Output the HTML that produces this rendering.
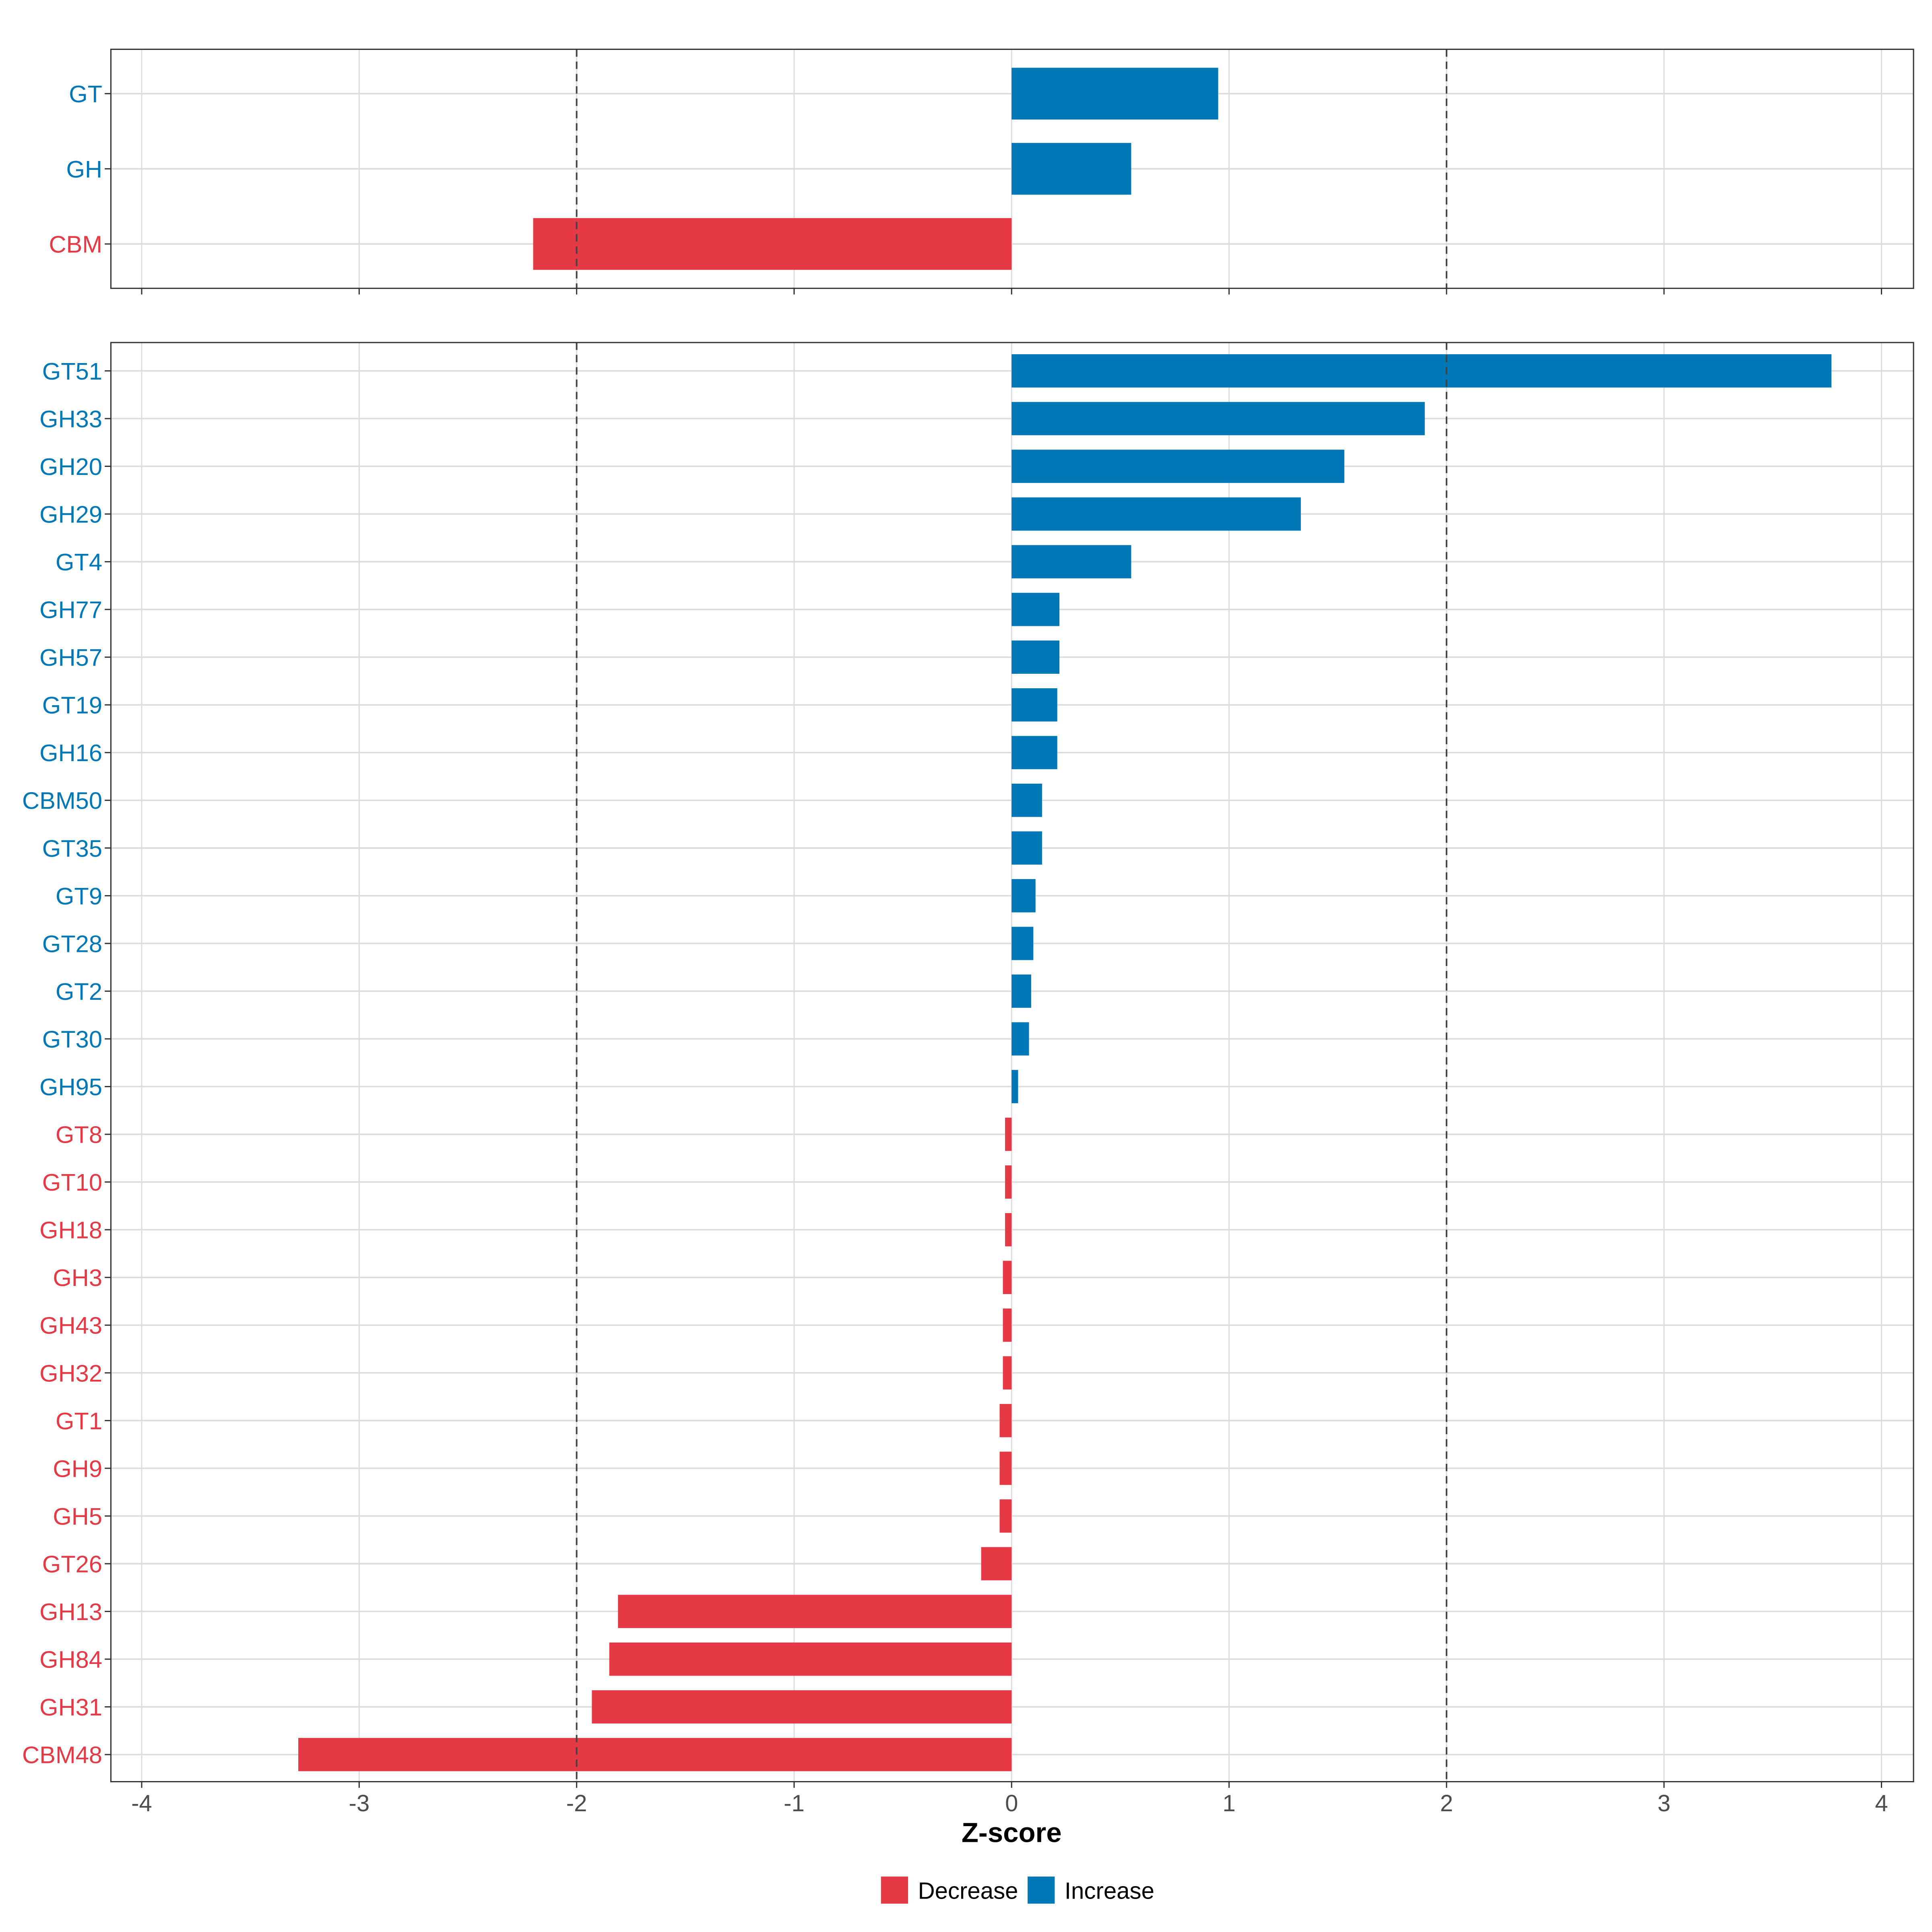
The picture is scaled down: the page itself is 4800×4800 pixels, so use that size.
<!DOCTYPE html>
<html><head><meta charset="utf-8"><style>
html,body{margin:0;padding:0;background:#fff;}
svg{display:block;}
text{font-family:"Liberation Sans",Arial,sans-serif;}
</style></head><body>
<svg id="chart" width="4800" height="4800" viewBox="0 0 1568 1568" xmlns="http://www.w3.org/2000/svg"></svg>
<script>
const topCategories = ["GT","GH","CBM"];
const topValues = [0.95, 0.55, -2.2];
const bottomCategories = ["GT51","GH33","GH20","GH29","GT4","GH77","GH57","GT19","GH16","CBM50","GT35","GT9","GT28","GT2","GT30","GH95","GT8","GT10","GH18","GH3","GH43","GH32","GT1","GH9","GH5","GT26","GH13","GH84","GH31","CBM48"];
const bottomValues = [3.77,1.90,1.53,1.33,0.55,0.22,0.22,0.21,0.21,0.14,0.14,0.11,0.10,0.09,0.08,0.03,-0.03,-0.03,-0.03,-0.04,-0.04,-0.04,-0.055,-0.055,-0.055,-0.14,-1.81,-1.85,-1.93,-3.28];
const xTicks = [-4,-3,-2,-1,0,1,2,3,4];
const thresholds = [-2, 2];

const RED="#E63946", BLUE="#0077B6";
const svg=document.getElementById('chart');
const NS="http://www.w3.org/2000/svg";
function el(tag,attrs,parent){const e=document.createElementNS(NS,tag);for(const k in attrs)e.setAttribute(k,attrs[k]);(parent||svg).appendChild(e);return e;}
const X0=821, XU=176.5;
function xs(v){return X0+v*XU;}
const L=90,R=1553;

function panel(name,top,bottom,cats,vals,firstY,step,barH){
  const g=el('g',{});
  
  
  xTicks.forEach(t=>{el('line',{x1:xs(t),x2:xs(t),y1:top,y2:bottom,stroke:'#dcdcdc','stroke-width':1},g);});
  cats.forEach((c,i)=>{const y=firstY+i*step;el('line',{x1:L,x2:R,y1:y,y2:y,stroke:'#dcdcdc','stroke-width':1.2},g);});
  cats.forEach((c,i)=>{
    const y=firstY+i*step,v=vals[i];
    const r=el('rect',{x:Math.min(xs(v),xs(0)),y:y-barH/2,width:Math.abs(xs(v)-xs(0)),height:barH,fill:v<0?RED:BLUE},g);
    
    
    el('line',{x1:L-5,x2:L,y1:y,y2:y,stroke:'#333','stroke-width':1},g);
    const t=el('text',{x:83,y:y+7,'text-anchor':'end','font-size':19.5,fill:v<0?RED:BLUE},g);
    t.textContent=c;
    
    
  });
  thresholds.forEach(t=>{el('line',{x1:xs(t),x2:xs(t),y1:top,y2:bottom,stroke:'#444','stroke-width':1.3,'stroke-dasharray':'6,4'},g);});
  el('rect',{x:L,y:top,width:R-L,height:bottom-top,fill:'none',stroke:'#333','stroke-width':1},g);
  xTicks.forEach(t=>{el('line',{x1:xs(t),x2:xs(t),y1:bottom,y2:bottom+5,stroke:'#333','stroke-width':1},g);});
}
panel('top-panel',40,234,topCategories,topValues,76,61,42);
panel('bottom-panel',278,1446,bottomCategories,bottomValues,301,(1424-301)/29,27);

xTicks.forEach(t=>{
  const tx=el('text',{x:xs(t),y:1470,'text-anchor':'middle','font-size':19,fill:'#4d4d4d'});
  tx.textContent=String(t);
  
  
});
</script>
<svg style="position:absolute;left:0;top:0" width="4800" height="4800" viewBox="0 0 1568 1568" xmlns="http://www.w3.org/2000/svg">
<text x="821" y="1495" text-anchor="middle" font-size="22.5" font-weight="bold" font-family="Liberation Sans, sans-serif">Z-score</text>
<rect x="715" y="1523" width="22" height="22" fill="#E63946"/>
<text x="745" y="1541" font-size="19" font-family="Liberation Sans, sans-serif">Decrease</text>
<rect x="834" y="1523" width="22" height="22" fill="#0077B6"/>
<text x="864" y="1541" font-size="19" font-family="Liberation Sans, sans-serif">Increase</text>
</svg>
</body></html>
